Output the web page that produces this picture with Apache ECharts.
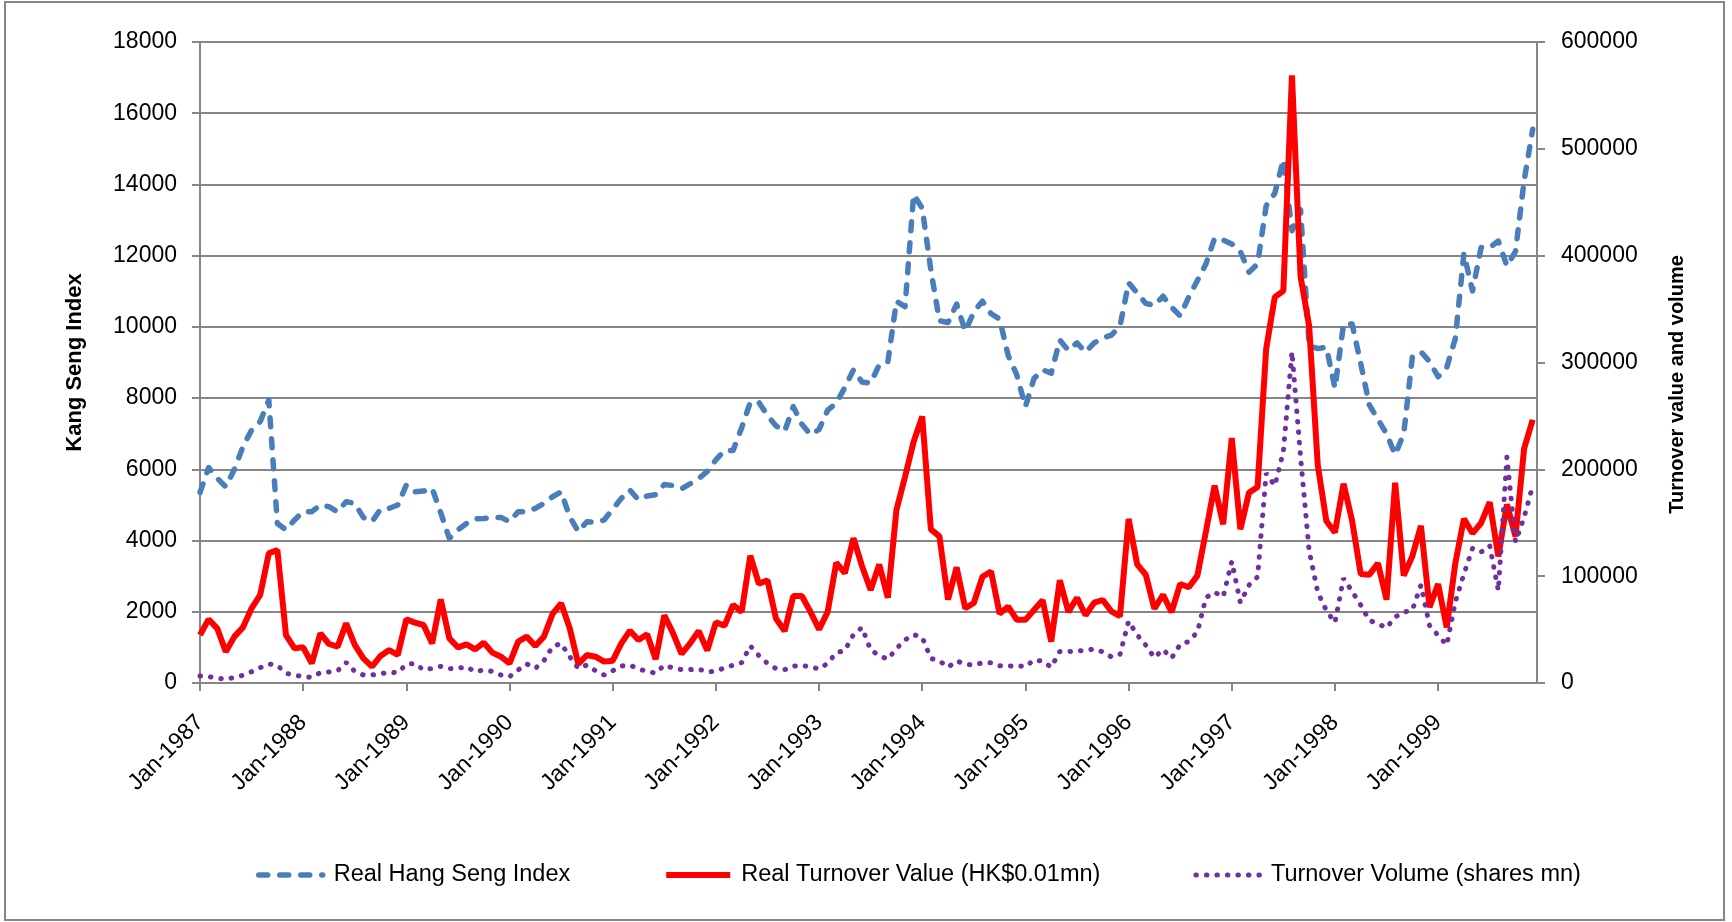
<!DOCTYPE html>
<html>
<head>
<meta charset="utf-8">
<title>Real Hang Seng Index and turnover</title>
<script src="https://cdn.jsdelivr.net/npm/echarts@6/dist/echarts.min.js"></script>
<style>
  html, body { margin: 0; padding: 0; background: #ffffff; }
  #chart { width: 1732px; height: 922px; }
</style>
</head>
<body>
<div id="chart"></div>
<script>
// monthly data, Jan-1987 .. Dec-1999 (156 months), x = month index
const yearTicks = [0, 12, 24, 36, 48, 60, 72, 84, 96, 108, 120, 132, 144]
const yearLabels = ['Jan-1987', 'Jan-1988', 'Jan-1989', 'Jan-1990', 'Jan-1991', 'Jan-1992', 'Jan-1993',
  'Jan-1994', 'Jan-1995', 'Jan-1996', 'Jan-1997', 'Jan-1998', 'Jan-1999']

// Real Hang Seng Index (left axis)
const hsi = [
  5350, 6050, 5750, 5510, 6000, 6640, 7100, 7340, 7950, 4480, 4300, 4580,
  4810, 4810, 5000, 4950, 4810, 5090, 5045, 4650, 4530, 4880, 4905, 5000,
  5560, 5370, 5390, 5470, 4780, 4060, 4300, 4480, 4610, 4620, 4650, 4650,
  4530, 4810, 4810, 4905, 5045, 5230, 5370, 4670, 4250, 4530, 4510, 4580,
  4880, 5185, 5420, 5140, 5250, 5290, 5575, 5545, 5450, 5595, 5740, 5940,
  6265, 6530, 6530, 7170, 7880, 7880, 7515, 7220, 7070, 7760, 7270, 6970,
  7120, 7660, 7860, 8300, 8795, 8450, 8420, 8940, 9020, 10720, 10570, 13720,
  13330, 11600, 10170, 10125, 10640, 9880, 10420, 10720, 10370, 10220, 9190, 8650,
  7760, 8550, 8795, 8700, 9630, 9340, 9550, 9290, 9550, 9690, 9770, 10020,
  11240, 10950, 10660, 10600, 10860, 10550, 10310, 10840, 11300, 11770, 12490, 12440,
  12330, 12120, 11535, 11770, 13400, 13750, 14700, 12700, 13290, 9480, 9390, 9430,
  8280, 10080, 10080, 8970, 7810, 7400, 7000, 6410, 7000, 9150, 9300, 9030,
  8600, 8860, 9670, 12060, 11010, 12230, 12230, 12410, 11710, 12120, 14100, 15550
]

// Real Turnover Value, HK$0.01mn (right axis)
const turnoverValue = [
  44900, 59600, 51200, 29300, 43400, 52100, 69900, 82400, 121400, 124500, 44900, 32400,
  33400, 18400, 46500, 36500, 34000, 55800, 35600, 23100, 15300, 25300, 30900, 26200,
  59600, 56500, 54300, 37100, 78300, 41800, 33400, 36200, 31500, 37800, 28400, 24600,
  18400, 38700, 43400, 34600, 43400, 64600, 74600, 51200, 17800, 26200, 24600, 20000,
  20900, 37100, 49000, 40200, 45600, 22300, 63400, 46900, 27200, 37100, 48600, 30500,
  56800, 53500, 73200, 66600, 119200, 92900, 96200, 60100, 48600, 81400, 81400, 66600,
  50200, 66600, 112600, 102800, 135600, 109300, 87000, 111000, 79800, 161900, 193000, 225900,
  249500, 143800, 137200, 78100, 108300, 69900, 74900, 99500, 104400, 65000, 71600, 59100,
  59100, 68300, 77500, 38700, 96200, 66600, 79800, 63400, 75200, 77700, 67100, 62500,
  153600, 111000, 101300, 69500, 82600, 66300, 92700, 89600, 100500, 142000, 184700, 148600,
  229300, 143900, 178100, 183500, 312700, 361200, 367000, 568800, 380600, 334100, 204000, 151700,
  140800, 186600, 151700, 102000, 101300, 112100, 78000, 187400, 100500, 118700, 147100, 71000,
  92700, 52000, 112100, 153600, 140100, 149800, 169200, 118500, 167200, 137100, 219400, 246400
]

// Turnover Volume, shares mn (right axis)
const turnoverVolume = [
  6600, 5900, 4700, 3400, 5300, 7200, 10600, 14400, 17800, 16500, 9000, 7500,
  5900, 5300, 9700, 10300, 11500, 19300, 10900, 7500, 7500, 8700, 10000, 9700,
  17500, 18400, 12200, 13700, 15600, 13400, 13700, 15300, 10600, 12200, 10900, 7500,
  5900, 12200, 17800, 13700, 20900, 34000, 37100, 24600, 13700, 16800, 11500, 7500,
  11500, 15900, 16800, 13100, 10900, 9200, 16700, 14100, 12500, 12500, 13100, 10200,
  11200, 14100, 16700, 19000, 34800, 25600, 18400, 13500, 12500, 15800, 16400, 15100,
  13100, 18400, 28200, 30500, 45300, 51900, 31000, 25600, 22300, 32200, 40400, 45300,
  42700, 23000, 20700, 14800, 20700, 17700, 16700, 19000, 19000, 16100, 15800, 16400,
  15100, 21700, 20400, 14800, 29500, 29500, 29900, 30500, 31800, 29100, 24400, 26800,
  57800, 45000, 35300, 23700, 31400, 23300, 36100, 38800, 47700, 79900, 85000, 80700,
  113700, 75300, 91600, 99300, 196300, 184700, 216500, 310000, 211800, 123800, 85000, 67900,
  56600, 98000, 85700, 72900, 58600, 55500, 51600, 61700, 66300, 68300, 91500, 54000,
  44500, 35500, 76000, 102000, 126000, 122600, 128500, 86500, 211500, 132300, 155000, 184700
]

const axisGray = '#868686'
const font = "'Liberation Sans', Arial, sans-serif"

const chart = echarts.init(document.getElementById('chart'))

const option = {
  animation: false,
  textStyle: { fontFamily: font },
  // outer chart border
  graphic: [{
    type: 'rect',
    silent: true,
    shape: { x: 5, y: 2, width: 1719, height: 918 },
    style: { fill: null, stroke: axisGray, lineWidth: 2 }
  }],
  legend: {
    left: 251,
    top: 858,
    itemWidth: 64,
    itemHeight: 14,
    itemGap: 93,
    // line-only icons, same stroke as the series
    itemStyle: { color: 'rgba(0,0,0,0)', borderWidth: 0 },
    lineStyle: { width: 'inherit' },
    textStyle: { fontSize: 23.5, color: '#000', padding: [0, 0, 0, 6] },
    data: ['Real Hang Seng Index', 'Real Turnover Value (HK$0.01mn)', 'Turnover Volume (shares mn)']
  },
  grid: { left: 200, right: 195, top: 42, bottom: 239, outerBoundsMode: 'none' },
  xAxis: {
    type: 'value',
    min: 0,
    max: 155.5,
    splitLine: { show: false },
    axisLine: { lineStyle: { color: axisGray, width: 2 } },
    axisTick: { customValues: yearTicks, length: 8, lineStyle: { color: axisGray, width: 2 } },
    axisLabel: {
      customValues: yearTicks,
      rotate: 45,
      margin: 36,
      fontSize: 23,
      color: '#000',
      formatter: function (v) {
        return yearLabels[Math.round(v / 12)]
      }
    }
  },
  yAxis: [
    {
      type: 'value',
      min: 0,
      max: 18000,
      interval: 2000,
      name: 'Kang Seng Index',
      nameLocation: 'middle',
      nameRotate: 90,
      nameGap: 114,
      nameTextStyle: { fontSize: 22, fontWeight: 'bold', color: '#000' },
      axisLine: { show: true, lineStyle: { color: axisGray, width: 2 } },
      axisTick: { show: true, length: 8, lineStyle: { color: axisGray, width: 2 } },
      splitLine: { lineStyle: { color: axisGray, width: 2 } },
      axisLabel: { fontSize: 23, margin: 23, color: '#000', formatter: v => String(v) }
    },
    {
      type: 'value',
      position: 'right',
      min: 0,
      max: 600000,
      interval: 100000,
      name: 'Turnover value and volume',
      nameLocation: 'middle',
      nameRotate: 90,
      nameGap: 130,
      // Excel put this title a little below the middle
      nameTextStyle: { fontSize: 20, fontWeight: 'bold', color: '#000', padding: [0, 44, 0, 0] },
      axisLine: { show: true, lineStyle: { color: axisGray, width: 2 } },
      axisTick: { show: true, length: 8, lineStyle: { color: axisGray, width: 2 } },
      splitLine: { show: false },
      axisLabel: { fontSize: 23, margin: 24, color: '#000', formatter: v => String(v) }
    }
  ],
  series: [
    {
      name: 'Real Hang Seng Index',
      type: 'line',
      yAxisIndex: 0,
      symbol: 'none',
      data: hsi.map((v, i) => [i, v]),
      lineStyle: { color: '#4A7EBB', width: 5.5, type: [9, 12], cap: 'round', join: 'round' },
      itemStyle: { color: '#4A7EBB' }
    },
    {
      name: 'Real Turnover Value (HK$0.01mn)',
      type: 'line',
      yAxisIndex: 1,
      symbol: 'none',
      data: turnoverValue.map((v, i) => [i, v]),
      lineStyle: { color: '#FF0000', width: 6 },
      itemStyle: { color: '#FF0000' }
    },
    {
      name: 'Turnover Volume (shares mn)',
      type: 'line',
      yAxisIndex: 1,
      symbol: 'none',
      data: turnoverVolume.map((v, i) => [i, v]),
      lineStyle: { color: '#7030A0', width: 5, type: [0.5, 10], cap: 'round' },
      itemStyle: { color: '#7030A0' }
    }
  ]
}

chart.setOption(option)
</script>
</body>
</html>
